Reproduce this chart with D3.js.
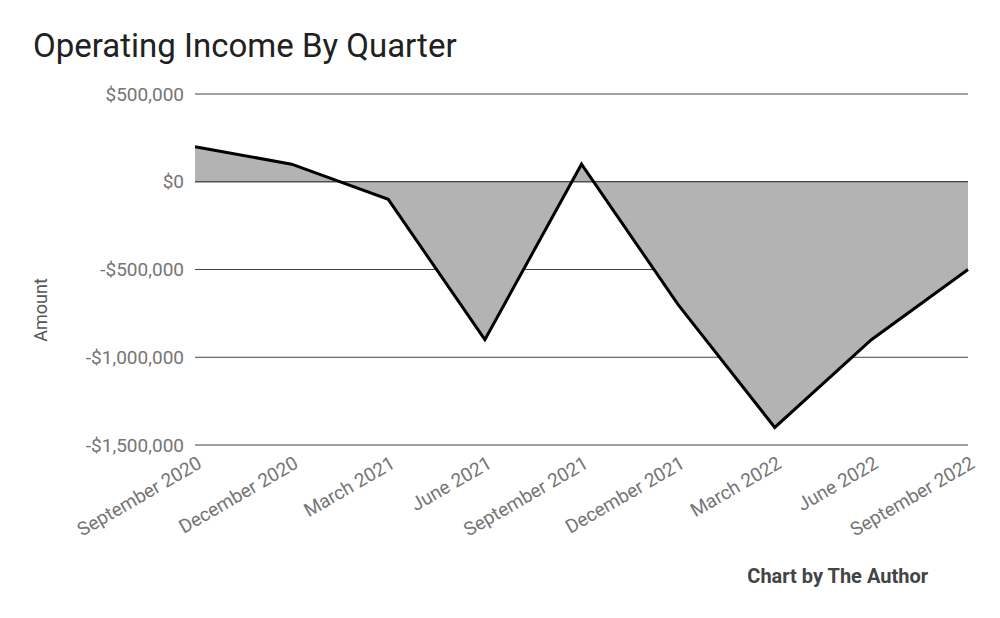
<!DOCTYPE html>
<html lang="en">
<head>
	<meta charset="UTF-8">
	<title>Operating Income By Quarter</title>
	<script src="https://cdn.jsdelivr.net/npm/d3@7"></script>
	<style>
		html,body{margin:0;padding:0;background:#fff;}
		svg{display:block;font-family:Roboto,"Noto Sans",sans-serif;}
	</style>
</head>
<body>
	<svg id="svg" width="1000" height="618"></svg>
	<script>
		// data
		var quarters = ["September 2020","December 2020","March 2021","June 2021","September 2021",
			"December 2021","March 2022","June 2022","September 2022"];
		var income = [200000,100000,-100000,-900000,100000,-700000,-1400000,-900000,-500000];
		var yTicks = [500000,0,-500000,-1000000,-1500000];

		var svg = d3.select("#svg"),
			mLeft = 195, mRight = 968, mTop = 94, mBottom = 445;

		var x = d3.scalePoint()
			.domain(quarters)
			.range([mLeft,mRight])
		var y = d3.scaleLinear()
			.domain([-1500000,500000])
			.range([mBottom,mTop])

		var fmt = v => (v<0?"-":"")+"$"+d3.format(",")(Math.abs(v));

		svg.append("text")
			.attr("x",33).attr("y",57)
			.attr("font-size",33)
			.attr("fill","#212121")
			.text("Operating Income By Quarter")

		// grid
		svg.append("g").selectAll("line")
			.data(yTicks)
			.enter().append("line")
			.attr("x1",mLeft).attr("x2",mRight)
			.attr("y1",d=>y(d)).attr("y2",d=>y(d))
			.attr("stroke","#444")
			.attr("stroke-width",1.2)

		// area + line
		var area = d3.area()
			.x((d,i)=>x(quarters[i]))
			.y0(y(0))
			.y1(d=>y(d))
		svg.append("path")
			.datum(income)
			.attr("d",area)
			.attr("fill","#b3b3b3")

		svg.append("line")
			.attr("x1",mLeft).attr("x2",mRight)
			.attr("y1",y(0)).attr("y2",y(0))
			.attr("stroke","#333")
			.attr("stroke-width",1.2)

		var line = d3.line()
			.x((d,i)=>x(quarters[i]))
			.y(d=>y(d))
		svg.append("path")
			.datum(income)
			.attr("d",line)
			.attr("fill","none")
			.attr("stroke","#000")
			.attr("stroke-width",3)

		// y labels
		svg.append("g").selectAll("text")
			.data(yTicks)
			.enter().append("text")
			.attr("x",184)
			.attr("y",d=>y(d))
			.attr("dy","0.35em")
			.attr("text-anchor","end")
			.attr("font-size",19)
			.attr("fill","#757575")
			.text(fmt)

		svg.append("text")
			.attr("transform","translate(47,310) rotate(-90)")
			.attr("text-anchor","middle")
			.attr("font-size",18)
			.attr("fill","#555")
			.text("Amount")

		// x labels
		svg.append("g").selectAll("text")
			.data(quarters)
			.enter().append("text")
			.attr("transform",d=>"translate("+(x(d)+8)+",467) rotate(-30)")
			.attr("text-anchor","end")
			.attr("font-size",19)
			.attr("fill","#757575")
			.text(d=>d)

		svg.append("text")
			.attr("x",928).attr("y",583)
			.attr("text-anchor","end")
			.attr("font-size",20)
			.attr("font-weight","bold")
			.attr("fill","#444")
			.text("Chart by The Author")
	</script>
</body>
</html>
